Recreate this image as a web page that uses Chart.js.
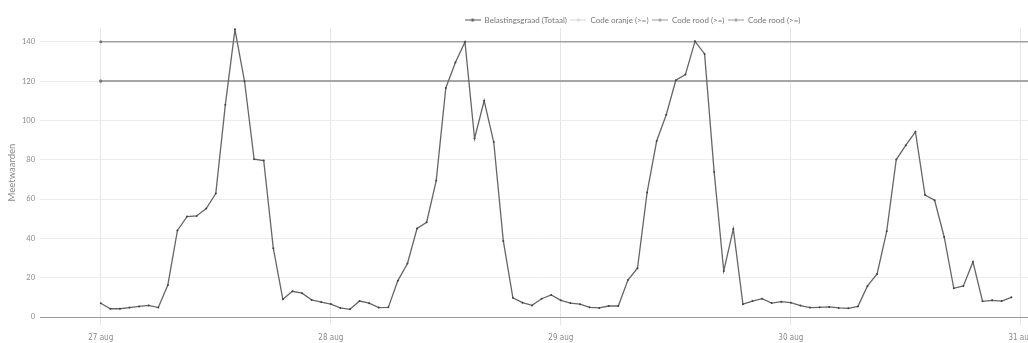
<!DOCTYPE html>
<html lang="nl">
<head>
    <meta charset="UTF-8">
    <title>Belastingsgraad</title>
    <script src="https://cdn.jsdelivr.net/npm/chart.js"></script>
    <style>
        html, body {
            margin: 0;
            padding: 0;
            background: #ffffff;
            overflow: hidden;
        }
        .chart-container {
            position: relative;
            width: 1045px;
            height: 343px;
        }
    </style>
</head>
<body>
    <div class="chart-container">
        <canvas id="loadChart"></canvas>
    </div>

    <script>
        // uurwaarden, beginnend op 27 aug 00:00
        const dagLabels = ['27 aug', '28 aug', '29 aug', '30 aug', '31 aug'];

        const dag27 = [7.0, 4.2, 4.2, 4.8, 5.4, 5.9, 4.8, 16.3, 44.0, 51.1, 51.4, 55.2,
                       62.8, 108.0, 146.2, 119.9, 80.3, 79.6, 35.0, 9.0, 13.1, 12.1, 8.7, 7.6];
        const dag28 = [6.6, 4.6, 3.9, 8.1, 7.0, 4.8, 4.9, 18.5, 27.2, 45.0, 48.2, 69.4,
                       116.5, 129.5, 139.9, 90.8, 110.0, 89.0, 38.7, 9.8, 7.3, 5.9, 9.3, 11.2];
        const dag29 = [8.5, 7.1, 6.5, 4.9, 4.6, 5.6, 5.6, 18.8, 24.8, 63.3, 89.5, 102.9,
                       120.4, 123.3, 140.2, 133.8, 73.7, 23.4, 44.8, 6.5, 8.1, 9.3, 7.1, 7.8];
        const dag30 = [7.3, 5.8, 4.8, 4.9, 5.1, 4.6, 4.4, 5.4, 15.8, 21.9, 43.6, 80.1,
                       87.4, 94.2, 62.0, 59.4, 40.7, 14.6, 15.8, 28.0, 8.0, 8.5, 8.1, 10.0];

        const belasting = [...dag27, ...dag28, ...dag29, ...dag30];

        const codeOranje = 120;
        const codeRood = 140;

        // as-bereik in uren vanaf 27 aug 00:00
        const xMin = -6.34;
        const xMax = 98.1;

        Chart.defaults.font.family = 'Lato, "Open Sans", sans-serif';
        Chart.defaults.color = '#8a8a8a';

        function legendIcon(color) {
            const c = document.createElement('canvas');
            c.width = 16;
            c.height = 5;
            const g = c.getContext('2d');
            g.strokeStyle = color;
            g.lineWidth = 1;
            g.beginPath();
            g.moveTo(0, 2.5);
            g.lineTo(16, 2.5);
            g.stroke();
            g.fillStyle = color;
            g.beginPath();
            g.arc(8, 2.5, 1.6, 0, Math.PI * 2);
            g.fill();
            return c;
        }

        const iconKleuren = ['#555555', '#d4d4d4', '#9a9a9a', '#9a9a9a'];
        const iconen = iconKleuren.map(legendIcon);

        // legenda naar rechts en iets omlaag schuiven, zoals in het origineel
        const legendShift = {
            id: 'legendShift',
            afterLayout(chart) {
                chart.legend.left += 110;
                chart.legend.right += 110;
                chart.legend.top += 6;
                chart.legend.bottom += 6;
            }
        };

        const drempel = (waarde) => [{ x: 0, y: waarde }, { x: xMax, y: waarde }];

        const drempelStijl = {
            borderColor: '#a0a0a0',
            borderWidth: 1.5,
            pointRadius: [1.5, 0],
            pointBackgroundColor: '#777777',
            pointBorderWidth: 0
        };

        new Chart(document.getElementById('loadChart'), {
            type: 'line',
            data: {
                datasets: [
                    {
                        label: 'Belastingsgraad (Totaal)',
                        data: belasting.map((v, i) => ({ x: i, y: v })),
                        borderColor: '#666666',
                        borderWidth: 1.3,
                        pointRadius: 1,
                        pointBackgroundColor: '#444444',
                        pointBorderColor: '#444444',
                        pointBorderWidth: 0,
                        tension: 0
                    },
                    { label: 'Code oranje (>=)', data: drempel(codeOranje), ...drempelStijl },
                    { label: 'Code rood (>=)', data: drempel(codeRood), ...drempelStijl },
                    { label: 'Code rood (>=)', data: drempel(codeOranje), ...drempelStijl }
                ]
            },
            options: {
                responsive: true,
                maintainAspectRatio: false,
                animation: false,
                layout: { padding: { top: 6.5, left: 0, right: 0, bottom: 0 } },
                plugins: {
                    tooltip: { enabled: false },
                    legend: {
                        position: 'top',
                        labels: {
                            usePointStyle: true,
                            pointStyleWidth: 16,
                            boxHeight: 8,
                            padding: 3.5,
                            color: '#777777',
                            font: { size: 8 },
                            generateLabels(chart) {
                                const items = Chart.defaults.plugins.legend.labels.generateLabels(chart);
                                items.forEach(item => { item.pointStyle = iconen[item.datasetIndex]; });
                                return items;
                            }
                        }
                    }
                },
                scales: {
                    x: {
                        type: 'linear',
                        min: xMin,
                        max: xMax,
                        grid: { color: '#e6e6e6', tickLength: 8, tickColor: '#e6e6e6' },
                        border: { display: true, color: '#9a9a9a', width: 1 },
                        ticks: {
                            stepSize: 24,
                            includeBounds: false,
                            padding: 8,
                            maxRotation: 0,
                            autoSkip: false,
                            color: '#8a8a8a',
                            font: { family: '"Liberation Sans Narrow", "DejaVu Sans Condensed", sans-serif', size: 8 },
                            callback: (value) => dagLabels[value / 24]
                        },
                        afterFit(scale) { scale.height = 26; }
                    },
                    y: {
                        min: 0,
                        max: 147,
                        grid: { color: '#ececec', drawTicks: false },
                        border: { display: false },
                        ticks: {
                            stepSize: 20,
                            includeBounds: false,
                            padding: 5,
                            color: '#8a8a8a',
                            font: { size: 7.5 }
                        },
                        title: {
                            display: true,
                            text: 'Meetwaarden',
                            color: '#8a8a8a',
                            font: { size: 9.5 },
                            padding: { top: 6, bottom: 0 }
                        },
                        afterFit(scale) { scale.width = 40; }
                    }
                }
            },
            plugins: [legendShift]
        });
    </script>
</body>
</html>
